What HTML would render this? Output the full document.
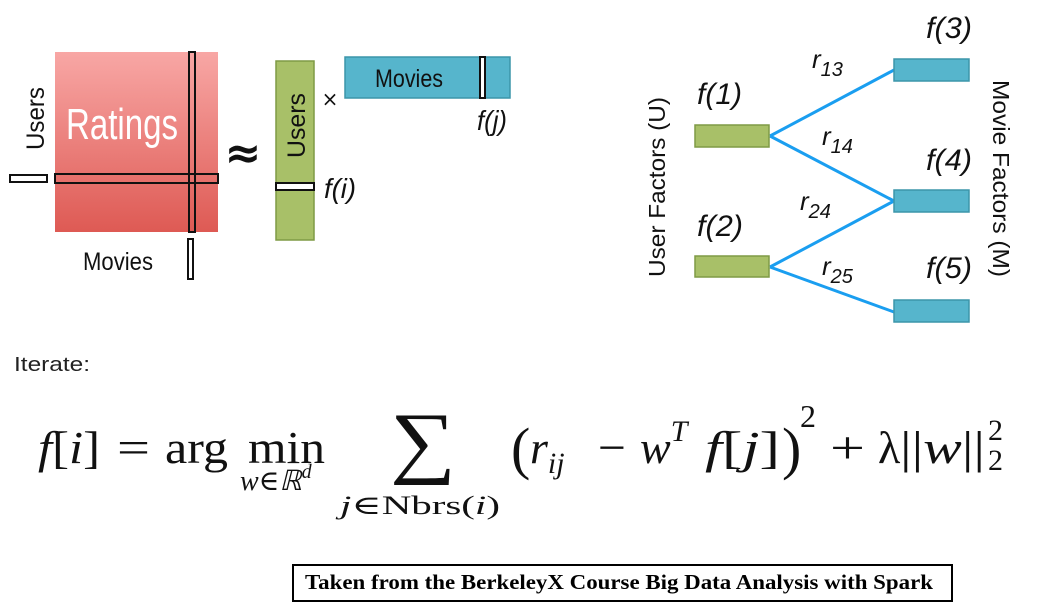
<!DOCTYPE html>
<html><head><meta charset="utf-8"><style>
html,body{margin:0;padding:0;background:#fff;width:1038px;height:612px;overflow:hidden}
svg{display:block}
.sans{font-family:"DejaVu Sans","Liberation Sans",sans-serif}
.lib{font-family:"Liberation Sans",sans-serif}
.ser{font-family:"Liberation Serif","DejaVu Serif",serif}
</style></head><body>
<svg width="1038" height="612" viewBox="0 0 1038 612">
<defs>
<linearGradient id="rg" x1="0" y1="0" x2="0" y2="1"><stop offset="0" stop-color="#f8a7a5"/><stop offset="1" stop-color="#de5a54"/></linearGradient>
</defs>
<g>
<rect x="55" y="52" width="163" height="180" fill="url(#rg)"/>
<text x="66" y="139" font-size="44" fill="#fff" class="lib" textLength="112" lengthAdjust="spacingAndGlyphs">Ratings</text>
<rect x="55" y="174" width="163" height="9" fill="none" stroke="#111" stroke-width="2"/>
<rect x="189" y="52" width="6" height="180" fill="none" stroke="#111" stroke-width="2"/>
<rect x="10" y="175" width="37" height="7" fill="#fff" stroke="#111" stroke-width="2"/>
<rect x="188" y="239" width="5" height="40" fill="#fff" stroke="#111" stroke-width="2"/>
<text transform="translate(44,150) rotate(-90)" font-size="25" class="lib" fill="#111" textLength="63" lengthAdjust="spacingAndGlyphs">Users</text>
<text x="83" y="270" font-size="25" class="lib" fill="#111" textLength="70" lengthAdjust="spacingAndGlyphs">Movies</text>
</g>
<text x="243" y="168" font-size="44" font-weight="bold" text-anchor="middle" class="sans" fill="#111">≈</text>
<g>
<rect x="276" y="61" width="38" height="179" fill="#a8c068" stroke="#7f9a45" stroke-width="1.5"/>
<text transform="translate(305,158) rotate(-90)" font-size="25" class="lib" fill="#111" textLength="65" lengthAdjust="spacingAndGlyphs">Users</text>
<rect x="276" y="183" width="38" height="7" fill="#fff" stroke="#111" stroke-width="2"/>
<text x="324" y="198" font-size="28" font-style="italic" class="lib" fill="#111" textLength="32" lengthAdjust="spacingAndGlyphs">f(i)</text>
</g>
<text x="330" y="106" font-size="20" text-anchor="middle" class="sans" fill="#111">×</text>
<g>
<rect x="345" y="57" width="165" height="41" fill="#56b5cc" stroke="#3c95aa" stroke-width="1.5"/>
<text x="375" y="87" font-size="25" class="lib" fill="#111" textLength="68" lengthAdjust="spacingAndGlyphs">Movies</text>
<rect x="480" y="57" width="5" height="41" fill="#fff" stroke="#111" stroke-width="2"/>
<text x="477" y="130" font-size="28" font-style="italic" class="lib" fill="#111" textLength="30" lengthAdjust="spacingAndGlyphs">f(j)</text>
</g>
<g class="lib">
<g stroke="#1a9ef0" stroke-width="3" fill="none">
<line x1="770" y1="136" x2="894" y2="70"/>
<line x1="770" y1="136" x2="894" y2="201"/>
<line x1="770" y1="267" x2="894" y2="201"/>
<line x1="770" y1="267" x2="894" y2="312"/>
</g>
<rect x="695" y="125" width="74" height="22" fill="#a8c068" stroke="#7f9a45" stroke-width="1.5"/>
<rect x="695" y="256" width="74" height="21" fill="#a8c068" stroke="#7f9a45" stroke-width="1.5"/>
<rect x="894" y="59" width="75" height="22" fill="#56b5cc" stroke="#3c95aa" stroke-width="1.5"/>
<rect x="894" y="190" width="75" height="22" fill="#56b5cc" stroke="#3c95aa" stroke-width="1.5"/>
<rect x="894" y="300" width="75" height="22" fill="#56b5cc" stroke="#3c95aa" stroke-width="1.5"/>
<g font-size="30" font-style="italic" fill="#111">
<text x="697" y="104" textLength="45" lengthAdjust="spacingAndGlyphs">f(1)</text>
<text x="697" y="236" textLength="46" lengthAdjust="spacingAndGlyphs">f(2)</text>
<text x="926" y="38" textLength="46" lengthAdjust="spacingAndGlyphs">f(3)</text>
<text x="926" y="170" textLength="46" lengthAdjust="spacingAndGlyphs">f(4)</text>
<text x="926" y="278" textLength="46" lengthAdjust="spacingAndGlyphs">f(5)</text>
</g>
<g font-size="26" font-style="italic" fill="#111">
<text x="812" y="68">r<tspan font-size="20" dy="8">13</tspan></text>
<text x="822" y="145">r<tspan font-size="20" dy="8">14</tspan></text>
<text x="800" y="210">r<tspan font-size="20" dy="8">24</tspan></text>
<text x="822" y="275">r<tspan font-size="20" dy="8">25</tspan></text>
</g>
<text transform="translate(665,277) rotate(-90)" font-size="23" fill="#111" textLength="180" lengthAdjust="spacingAndGlyphs">User Factors (U)</text>
<text transform="translate(993,80) rotate(90)" font-size="23" fill="#111" textLength="197" lengthAdjust="spacingAndGlyphs">Movie Factors (M)</text>
</g>
<text x="14" y="371" font-size="20" class="lib" fill="#222" textLength="76" lengthAdjust="spacingAndGlyphs">Iterate:</text>
<g class="ser" fill="#111" font-size="46">
<text x="38" y="463" textLength="62" lengthAdjust="spacingAndGlyphs"><tspan font-style="italic">f</tspan>[<tspan font-style="italic">i</tspan>]</text>
<text x="117" y="463" textLength="33" lengthAdjust="spacingAndGlyphs">=</text>
<text x="165" y="463" textLength="63" lengthAdjust="spacingAndGlyphs">arg</text>
<text x="248" y="463" textLength="77" lengthAdjust="spacingAndGlyphs">min</text>
<text x="240" y="490" font-size="28" font-style="italic">w∈ℝ<tspan font-size="20" dy="-12">d</tspan></text>
<text x="390" y="468" font-size="80" textLength="66" lengthAdjust="spacingAndGlyphs">∑</text>
<text x="340" y="514" font-size="26" textLength="160" lengthAdjust="spacingAndGlyphs"><tspan font-style="italic">j</tspan>∈Nbrs(<tspan font-style="italic">i</tspan>)</text>
<text x="511" y="468" font-size="58">(</text>
<text x="530" y="463" font-style="italic">r<tspan font-size="30" dy="10">ij</tspan></text>
<text x="598" y="463" textLength="28" lengthAdjust="spacingAndGlyphs">−</text>
<text x="640" y="463" font-style="italic">w<tspan font-size="30" dy="-22">T</tspan></text>
<text x="705" y="463" textLength="75" lengthAdjust="spacingAndGlyphs"><tspan font-style="italic">f</tspan>[<tspan font-style="italic">j</tspan>]</text>
<text x="782" y="468" font-size="58">)</text>
<text x="800" y="427" font-size="32">2</text>
<text x="830" y="463" textLength="35" lengthAdjust="spacingAndGlyphs">+</text>
<text x="878" y="463">λ</text>
<text x="900" y="463" textLength="85" lengthAdjust="spacingAndGlyphs">||<tspan font-style="italic">w</tspan>||</text>
<text x="988" y="440" font-size="30">2</text>
<text x="988" y="470" font-size="30">2</text>
</g>
<g>
<rect x="293" y="565" width="659" height="36" fill="#fff" stroke="#000" stroke-width="2"/>
<text x="305" y="589" font-size="21" font-weight="bold" class="ser" fill="#000" textLength="628" lengthAdjust="spacingAndGlyphs">Taken from the BerkeleyX Course Big Data Analysis with Spark</text>
</g>
</svg>
</body></html>
